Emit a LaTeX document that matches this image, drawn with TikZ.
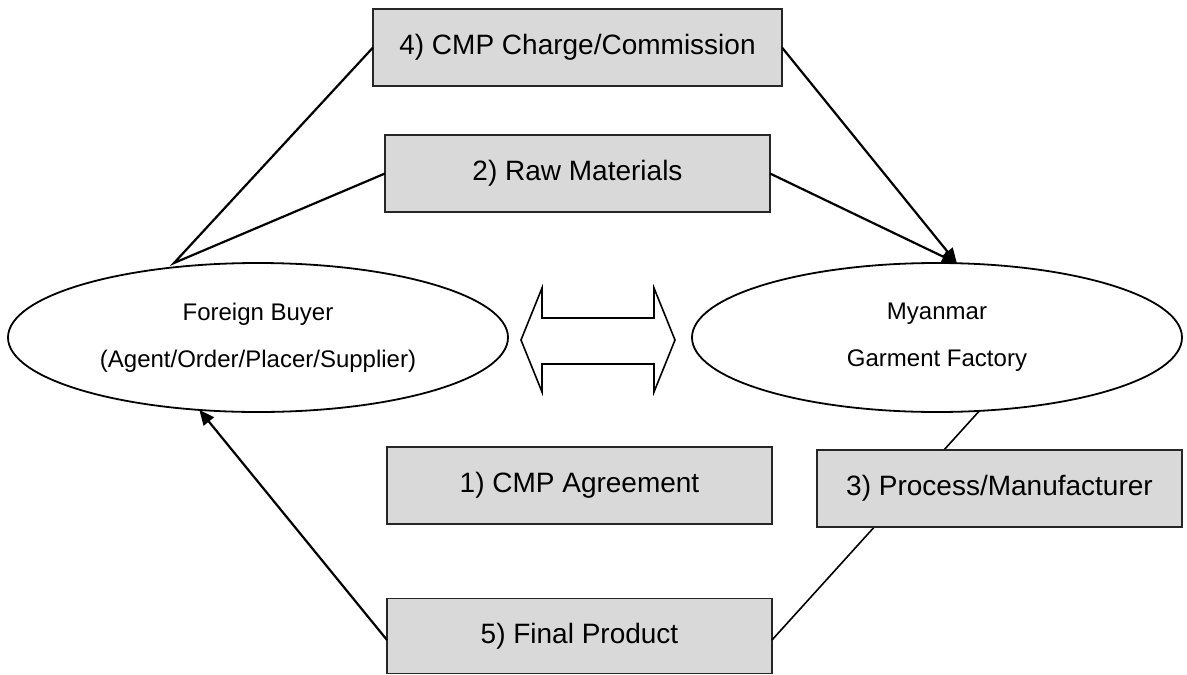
\documentclass[tikz,border=0pt]{standalone}
\usepackage{fontspec}
\setmainfont{Liberation Sans}
\usetikzlibrary{arrows.meta,shapes.geometric}
\tikzset{
  box/.style={draw=black!85, fill=black!15, line width=1.8pt, inner sep=0pt, outer sep=0pt,
    minimum height=77pt, font=\fontsize{28}{32}\selectfont},
  oval/.style={draw=black, ellipse, line width=1.8pt, inner sep=0pt, outer sep=0pt,
    minimum height=149pt, align=center, font=\fontsize{24}{47}\selectfont},
  conn/.style={line width=2.2pt, black},
  arr/.style={conn, -{Triangle[length=15pt,width=13pt]}},
}
\begin{document}
\begin{tikzpicture}[x=1pt,y=-1pt]
\useasboundingbox (0,0) rectangle (1187,675);
% ellipses
\node[oval, minimum width=500pt] (fb) at (258,337.5) {Foreign Buyer\\(Agent/Order/Placer/Supplier)};
\node[oval, minimum width=490pt] (fac) at (937,337.5) {Myanmar\\Garment Factory};
% boxes
\node[box, minimum width=409pt] (b4) at (577.5,47.5) {4) CMP Charge/Commission};
\node[box, minimum width=385pt] (b2) at (577.5,173.5) {2) Raw Materials};
\node[box, minimum width=385pt] (b1) at (579.5,485.5) {1) CMP Agreement};
\node[box, minimum width=385pt, minimum height=75pt] (b5) at (579.5,636) {5) Final Product};
% line behind box 3
\draw[conn, line width=1.6pt] (fac.300) -- ([yshift=-4pt]b5.east);
\node[box, minimum width=365pt] (b3) at (999.5,488.5) {3) Process/Manufacturer};
% connectors
\coordinate (apex) at (174,263);
\draw[conn] (b4.west) -- (apex) -- (b2.west);
\draw[arr] (b4.east) -- (fac.75);
\draw[arr] (b2.east) -- (fac.75);
\draw[arr] ([yshift=-4pt]b5.west) -- (fb.231);
% double arrow
\draw[line width=1.6pt, fill=white]
  (521,340) -- (542,288) -- (542,318) -- (654,318) -- (654,288) -- (675,340)
  -- (654,392) -- (654,364) -- (542,364) -- (542,392) -- cycle;
\end{tikzpicture}
\end{document}
